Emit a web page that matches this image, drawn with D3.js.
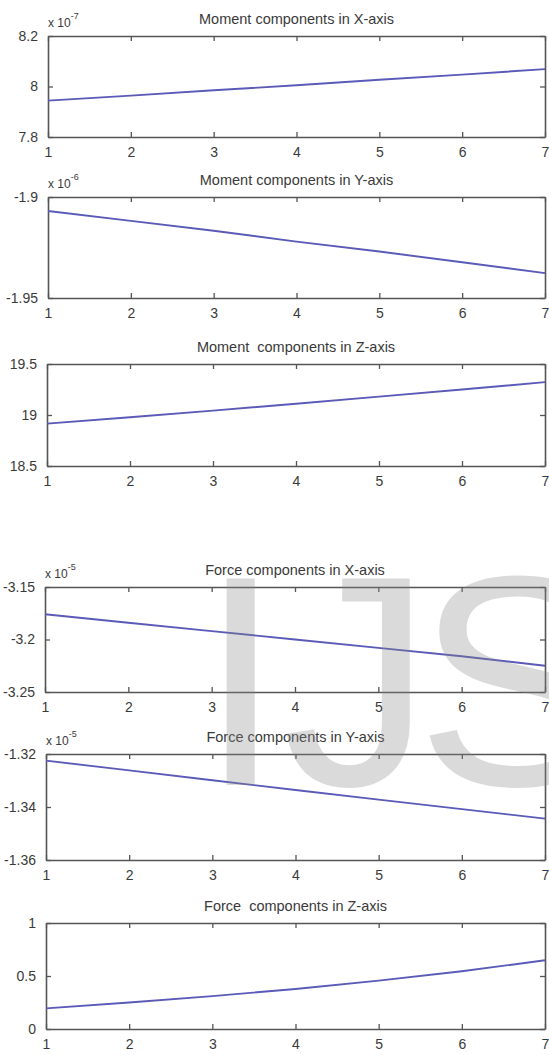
<!DOCTYPE html>
<html>
<head>
<meta charset="utf-8">
<script src="https://cdn.jsdelivr.net/npm/d3@7"></script>
<style>
  html, body { margin: 0; padding: 0; background: #fff; }
  svg { display: block; }
  text { font-family: "Liberation Sans", Arial, sans-serif; fill: #3a3a3a; }
</style>
</head>
<body>
<script>
// Load steps (x axis) shared by every panel
const steps = [1, 2, 3, 4, 5, 6, 7];

// Moment components (values in units of the panel's multiplier)
const momentX = [7.944, 7.964, 7.985, 8.005, 8.027, 8.047, 8.069];               // x 10^-7
const momentY = [-1.9069, -1.9118, -1.9167, -1.9221, -1.9270, -1.9323, -1.9377]; // x 10^-6
const momentZ = [18.915, 18.978, 19.043, 19.11, 19.18, 19.25, 19.322];

// Force components
const forceX = [-3.176, -3.184, -3.192, -3.200, -3.208, -3.216, -3.225];         // x 10^-5
const forceY = [-1.3225, -1.3262, -1.3299, -1.3336, -1.3372, -1.3408, -1.3444];  // x 10^-5
const forceZ = [0.195, 0.25, 0.31, 0.378, 0.456, 0.545, 0.648];

// Panel titles, y tick labels and axis multipliers
const titles = [
  "Moment components in X-axis",
  "Moment components in Y-axis",
  "Moment  components in Z-axis",
  "Force components in X-axis",
  "Force components in Y-axis",
  "Force  components in Z-axis"
];
const yTicks = [
  [7.8, 8, 8.2],
  [-1.95, -1.9],
  [18.5, 19, 19.5],
  [-3.25, -3.2, -3.15],
  [-1.36, -1.34, -1.32],
  [0, 0.5, 1]
];
const exponents = [-7, -6, null, -5, -5, null];
const series = [momentX, momentY, momentZ, forceX, forceY, forceZ];

const W = 549, H = 1055;
// Panel frames: [left, top, right, bottom]
const frames = [
  [48, 36, 545, 137],
  [48, 197, 545, 298],
  [47, 364, 545, 466],
  [45, 587, 545, 692],
  [46, 754, 545, 860],
  [46, 923, 545, 1029]
];

const svg = d3.select("body").append("svg")
  .attr("width", W).attr("height", H);
svg.append("rect").attr("width", W).attr("height", H).attr("fill", "#fff");

const axisColor = "#555";
const fmt = d => String(d);

series.forEach((vals, i) => {
  const [l, t, r, b] = frames[i];
  const ticks = yTicks[i];
  const x = d3.scaleLinear().domain([1, 7]).range([l, r]);
  const y = d3.scaleLinear().domain([d3.min(ticks), d3.max(ticks)]).range([b, t]);
  const g = svg.append("g");

  const styleAxis = sel => {
    sel.select(".domain").attr("stroke", axisColor).attr("stroke-width", 1.6);
    sel.selectAll(".tick line").attr("stroke", axisColor).attr("stroke-width", 1.3);
    sel.selectAll(".tick text").attr("fill", "#3a3a3a")
      .style("font-size", "14px")
      .style("font-family", "'Liberation Sans', Arial, sans-serif");
  };

  // bottom axis with labels, inward ticks
  g.append("g").attr("transform", `translate(0,${b})`)
    .call(d3.axisBottom(x).tickValues(steps).tickFormat(fmt)
      .tickSizeInner(-5).tickSizeOuter(0).tickPadding(10))
    .call(styleAxis);
  // top axis, ticks only
  g.append("g").attr("transform", `translate(0,${t})`)
    .call(d3.axisTop(x).tickValues(steps).tickFormat("")
      .tickSizeInner(-5).tickSizeOuter(0))
    .call(styleAxis);
  // left axis with labels
  g.append("g").attr("transform", `translate(${l},0)`)
    .call(d3.axisLeft(y).tickValues(ticks).tickFormat(fmt)
      .tickSizeInner(-5).tickSizeOuter(0).tickPadding(10))
    .call(styleAxis);
  // right axis, ticks only
  g.append("g").attr("transform", `translate(${r},0)`)
    .call(d3.axisRight(y).tickValues(ticks).tickFormat("")
      .tickSizeInner(-5).tickSizeOuter(0))
    .call(styleAxis);

  // the data line
  const line = d3.line().x((d, k) => x(steps[k])).y(d => y(d));
  g.append("path").datum(vals)
    .attr("d", line)
    .attr("fill", "none")
    .attr("stroke", "#5a5ab8")
    .attr("stroke-width", 1.9);

  // title
  g.append("text")
    .attr("x", (l + r) / 2).attr("y", t - 12)
    .attr("text-anchor", "middle")
    .style("font-size", "14.5px")
    .style("white-space", "pre")
    .attr("xml:space", "preserve")
    .text(titles[i]);

  // multiplier label, e.g. "x 10^-7"
  if (exponents[i] !== null) {
    const m = g.append("text").attr("x", l).attr("y", t - 9)
      .style("font-size", "12px");
    m.append("tspan").text("x 10");
    m.append("tspan").attr("dy", -8).style("font-size", "9px").text(String(exponents[i]));
  }
});

// faint publisher mark over the force panels
const mark = svg.append("text")
  .attr("y", 785)
  .style("font-size", "300px")
  .style("fill", "#888")
  .style("opacity", 0.3);
mark.append("tspan").attr("x", 199).text("I");
mark.append("tspan").attr("x", 282).text("J");
mark.append("tspan").attr("x", 416).text("S");
</script>
</body>
</html>
